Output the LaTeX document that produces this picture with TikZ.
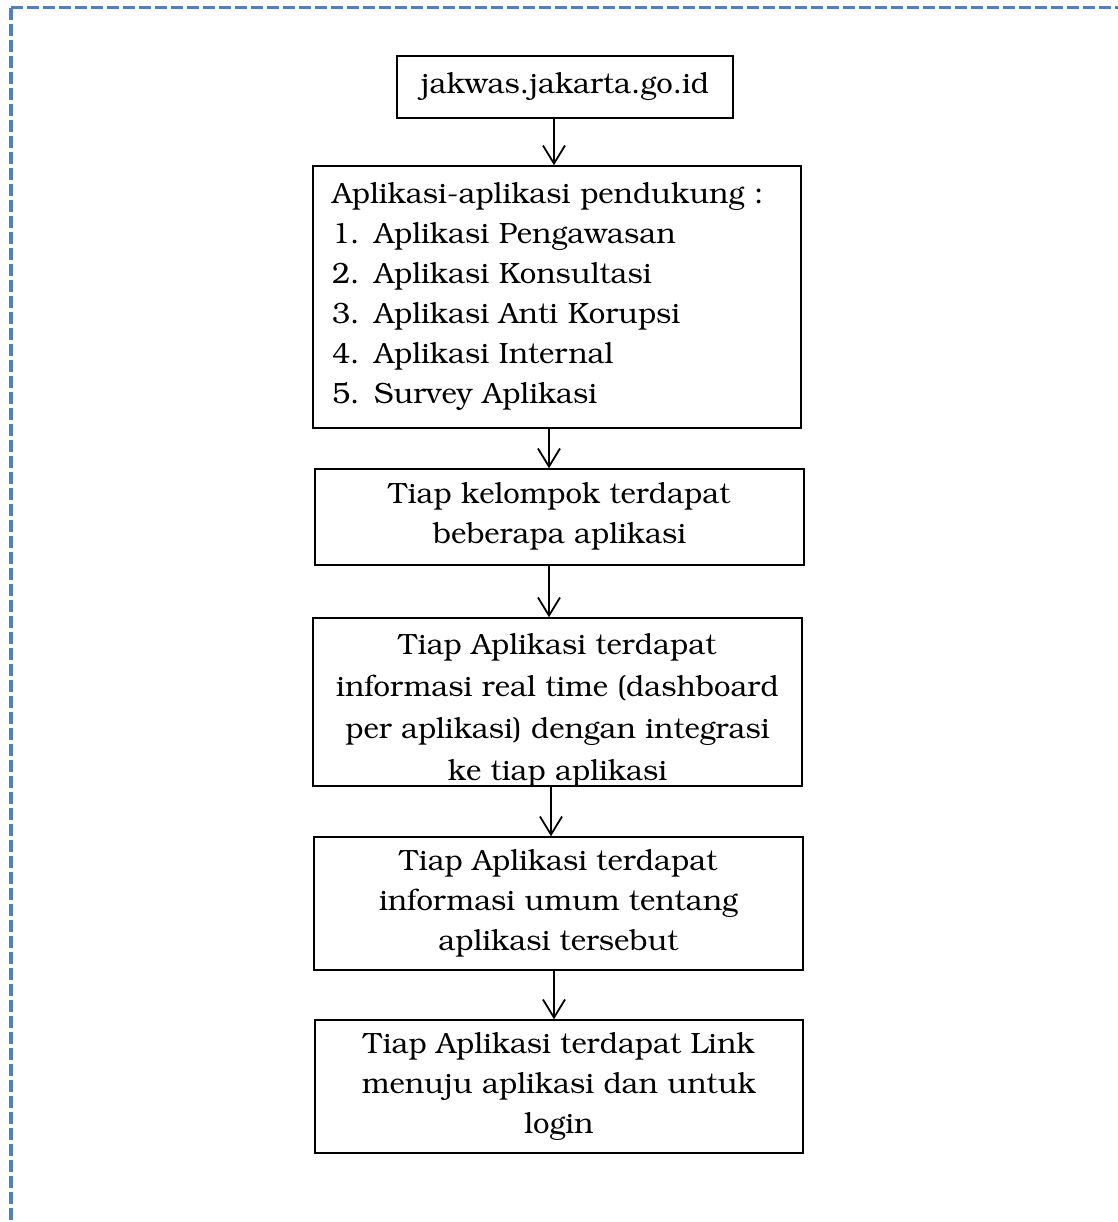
\documentclass[tikz,border=0pt]{standalone}
\usepackage[T1]{fontenc}
\usepackage{bookman}
\usetikzlibrary{arrows.meta}
\definecolor{framebl}{HTML}{4F81BD}
\newcommand\fsz{\fontsize{14.65pt}{20pt}\selectfont}
\newcommand\fszb{\fontsize{14.65pt}{21pt}\selectfont}
\begin{document}
\begin{tikzpicture}[x=0.5pt,y=-0.5pt,
  box/.style={draw=black, line width=0.75pt, inner sep=0pt, align=center, font=\fsz},
  txt/.style={inner sep=0pt, align=center, font=\fszb},
  arr/.style={-{Straight Barb[length=9pt,width=11pt]}, line width=0.9pt},
  frame/.style={draw=framebl, line width=1.6pt, dash pattern=on 6pt off 2pt}]
\useasboundingbox (0,0) rectangle (1118,1222);
% dashed frame
\coordinate (fc) at (11,7.5);
\coordinate (fr) at (1118,7.5);
\coordinate (fb) at (11,1222);
\draw[frame] (fc) -- (fr);
\draw[frame] (fc) -- (fb);
% boxes
\node[box, minimum width=168pt, minimum height=31pt] (b1) at (565,87) {jakwas.jakarta.go.id};
\node[box, minimum width=244pt, minimum height=131pt, text width=225pt, inner xsep=9.5pt, align=left] (b2) at (557,297)
  {Aplikasi-aplikasi pendukung :\\
   1. Aplikasi Pengawasan\\
   2. Aplikasi Konsultasi\\
   3. Aplikasi Anti Korupsi\\
   4. Aplikasi Internal\\
   5. Survey Aplikasi};
\node[box, minimum width=244.5pt, minimum height=48pt] (b3) at (559.5,517)
  {Tiap kelompok terdapat\\ beberapa aplikasi};
\node[box, minimum width=244.5pt, minimum height=84pt,
  path picture={\node[txt] (t4) at ([yshift=-4.5pt]path picture bounding box.center)
    {Tiap Aplikasi terdapat\\ informasi real time (dashboard\\ per aplikasi) dengan integrasi\\ ke tiap aplikasi};}] (b4) at (557.5,702) {};
\node[box, minimum width=244.5pt, minimum height=66.5pt] (b5) at (558.5,903.5)
  {Tiap Aplikasi terdapat\\ informasi umum tentang\\ aplikasi tersebut};
\node[box, minimum width=244pt, minimum height=66.5pt] (b6) at (559,1086.5)
  {Tiap Aplikasi terdapat Link\\ menuju aplikasi dan untuk\\ login};
% arrows
\coordinate (ax1) at (554,0);
\coordinate (ax2) at (549,0);
\coordinate (ax3) at (549,0);
\coordinate (ax4) at (551,0);
\coordinate (ax5) at (554,0);
\draw[arr] (b1.south -| ax1) -- (b2.north -| ax1);
\draw[arr] (b2.south -| ax2) -- (b3.north -| ax2);
\draw[arr] (b3.south -| ax3) -- (b4.north -| ax3);
\draw[arr] (b4.south -| ax4) -- (b5.north -| ax4);
\draw[arr] (b5.south -| ax5) -- (b6.north -| ax5);
\end{tikzpicture}
\end{document}
